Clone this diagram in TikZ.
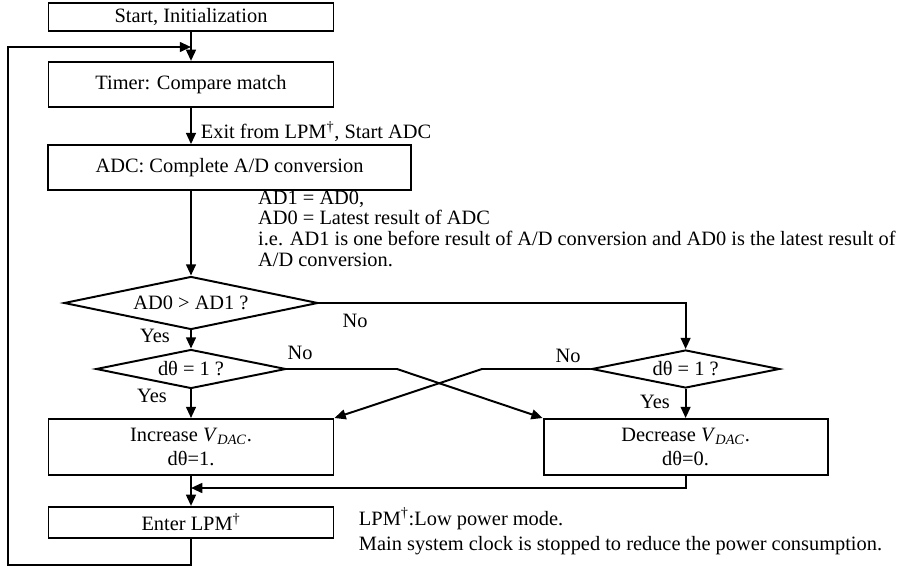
\documentclass[tikz,border=0pt]{standalone}
\usepackage{fontspec}
\setmainfont{Liberation Serif}
\usetikzlibrary{arrows.meta,positioning,shapes.geometric}
\newcommand{\vdac}{\textit{V}\textsubscript{\textit{DAC}}}
\newcommand{\lpm}{LPM\textsuperscript{\dag}}

\begin{document}
\begin{tikzpicture}[font=\fontsize{14.5}{17.4}\selectfont,
        line width=1.4pt,
        blk/.style={draw,rectangle,minimum width=7.125cm,align=center,inner sep=2pt},
        cnd/.style={draw,diamond,inner sep=1pt},
        a/.style={-{Triangle[length=8pt,width=7pt]}}]
        \useasboundingbox (0,0) rectangle (22.7,14.25);
        \node[blk,minimum height=.7cm] (start) at (4.775,13.825) {Start, Initialization};
        \node[blk,minimum height=1.125cm] (timer) at (4.775,12.14) {Timer: Compare match};
        \node[blk,minimum height=1.125cm,minimum width=9.075cm] (adc) at (5.74,10.06)
          {ADC: Complete A/D conversion};
        \node[cnd,minimum width=6.35cm,minimum height=1.325cm,shape aspect=4.8] (c1)
          at (4.775,6.675) {AD0 > AD1 ?};
        \node[cnd,minimum width=4.75cm,minimum height=.975cm,shape aspect=4.87] (c2l)
          at (4.775,5.025) {dθ = 1 ?};
        \node[cnd,minimum width=4.7cm,minimum height=.95cm,shape aspect=4.9] (c2r)
          at (17.14,5.025) {dθ = 1 ?};
        \node[blk,minimum height=1.4cm] (inc) at (4.775,3.075) {Increase \vdac.\\dθ=1.};
        \node[blk,minimum height=1.4cm,minimum width=7.1cm] (dec) at (17.14,3.075)
          {Decrease \vdac.\\dθ=0.};
        \node[blk,minimum height=.775cm] (lpm) at (4.775,1.19) {Enter \lpm};
        % notes (anchored at the baseline of their last line)
        \node[anchor=base west,align=left,inner sep=0pt,
          font=\fontsize{14.5}{14.7}\selectfont] (upd) at (6.43,7.6)
          {AD1 = AD0,\\AD0 = Latest result of ADC\\i.e. AD1 is one before result of A/D
          conversion and AD0 is the latest result of\\A/D conversion.};
        \node[anchor=base west,align=left,inner sep=0pt,
          font=\fontsize{14.5}{17.7}\selectfont] (note) at (8.95,.5)
          {\lpm:Low power mode.\\Main system clock is stopped to reduce the power consumption.};
        \node (no1) at (8.875,6.225) {No};
        \node (yes1) at (3.875,5.85) {Yes};
        \node (no2) at (7.5,5.425) {No};
        \node (yes2) at (3.8,4.35) {Yes};
        \node (no3) at (14.2,5.35) {No};
        \node (yes3) at (16.375,4.2) {Yes};
        % bends
        \coordinate (jn) at (4.775,13.075);
        \coordinate (lb) at (0.2,0.125);
        \coordinate (lt) at (0.2,13.075);
        \coordinate (mg) at (4.775,2.05);
        \coordinate (kl) at (9.925,5.025);
        \coordinate (kr) at (12.05,5.025);
        \draw[a] (start) -- (timer);
        \draw[a] (timer.south) -- node[right=3pt,yshift=-4pt]{Exit from \lpm, Start ADC}
          (timer.south |- adc.north);
        \draw[a] (c1.north |- adc.south) -- (c1.north);
        \draw[a] (c1.south) -- (c2l.north);
        \draw[a] (c1.east) -| (c2r.north);
        \draw[a] (c2l.south) -- (inc.north);
        \draw[a] (c2r.south) -- (dec.north);
        \draw[a] (c2l.east) -- (kl) -- (dec.north west);
        \draw[a] (c2r.west) -- (kr) -- (inc.north east);
        \draw[a] (dec.south) |- (mg);
        \draw[a] (inc) -- (lpm);
        \draw[a] (lpm.south) |- (lb) -- (lt) -- (jn);
      \end{tikzpicture}
\end{document}
